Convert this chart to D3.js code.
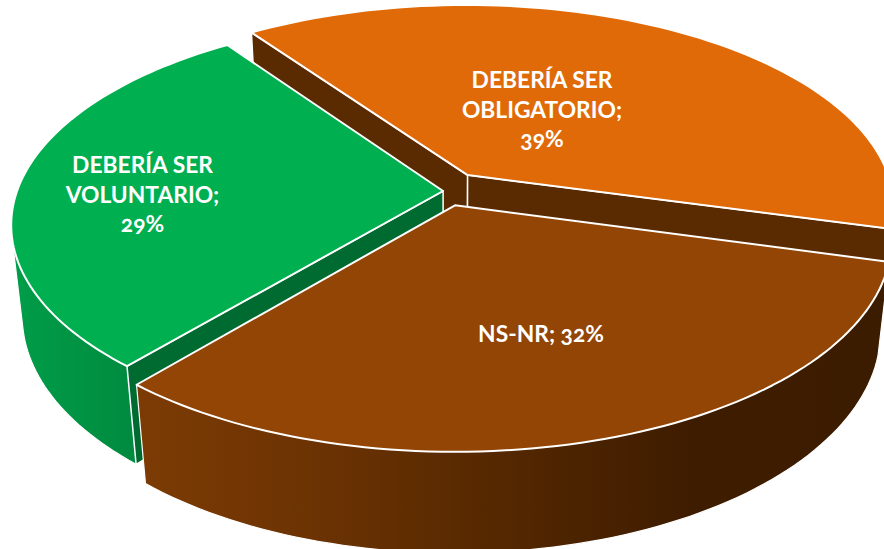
<!DOCTYPE html>
<html>
<head>
<meta charset="utf-8">
<style>
  html, body { margin: 0; padding: 0; background: #fff; }
  svg { display: block; }
  text { font-family: Lato, "Open Sans", sans-serif; font-weight: 700; fill: #fff; font-feature-settings: "onum"; }
</style>
<script src="https://cdn.jsdelivr.net/npm/d3@7"></script>
</head>
<body>
<div id="chart"></div>
<script>
const categories = ["DEBERÍA SER OBLIGATORIO", "NS-NR", "DEBERÍA SER VOLUNTARIO"]
const values = [39, 32, 29]
const labelLines = [["DEBERÍA SER", "OBLIGATORIO;", "39%"], ["NS-NR; 32%"], ["DEBERÍA SER", "VOLUNTARIO;", "29%"]]

// look of each slice
const topColors = ["#e06a08", "#924504", "#00b050"]
const sideColors = ["#5a2a00", "#3c1c00", "#006b31"]
const rimStops = [
    null,
    ["#7c3b04", "#6a3203", "#532700", "#3e1c00", "#3c1c00"],
    ["#009c48", "#008a3f"]
]
// how far each slice is pulled out of the pie, in pie units
const explode = [[0.03, 0.08], [0, -0.07], [-0.028, 0]]
const labelPos = [[542, 88], [541, 342], [142.5, 173]]
const drawOrder = [0, 2, 1]

const width = 884
const height = 549
const persp = 0.16       // back of the pie is further away
const sink = 0.025       // and so is the bottom
const drop = 93          // thickness

const x = d3.scaleLinear().domain([-1, 1]).range([455 - 426, 455 + 426])
const y = d3.scaleLinear().domain([-1, 1]).range([191 + 202, 191 - 202])

// u,v are pie coords (v goes to the back), z 0 top, 1 bottom
const project = (u, v, z) => {
    const w = 1 + persp * v + sink * z
    const py = y(v) - y(0) + drop * z
    return [x(u / w), y(0) + py / w]
}

const pie = d3.pie().sort(null).startAngle(-35.2 * Math.PI / 180).endAngle(324.8 * Math.PI / 180)
const slices = pie(values)
const line = d3.line()

const rimPoints = (d, i, z) => {
    const n = 80
    return d3.range(n + 1).map(k => {
        const a = d.startAngle + (d.endAngle - d.startAngle) * k / n
        return project(Math.sin(a) + explode[i][0], Math.cos(a) + explode[i][1], z)
    })
}
const apex = (i, z) => project(explode[i][0], explode[i][1], z)

const svg = d3.select("#chart").append("svg")
    .attr("width", width)
    .attr("height", height)

const defs = svg.append("defs")
rimStops.forEach((stops, i) => {
    if (!stops) return
    const xs = d3.extent(rimPoints(slices[i], i, 1).filter(p => p[1] > 191), p => p[0])
    const grad = defs.append("linearGradient")
        .attr("id", "rim" + i)
        .attr("gradientUnits", "userSpaceOnUse")
        .attr("x1", xs[0]).attr("x2", xs[1]).attr("y1", 0).attr("y2", 0)
    stops.forEach((c, k) => {
        grad.append("stop").attr("offset", k / (stops.length - 1)).attr("stop-color", c)
    })
})

const addFace = (g, pts, fill, sw) => {
    g.append("path")
        .attr("d", line(pts) + "Z")
        .attr("fill", fill)
        .attr("stroke", "#fff")
        .attr("stroke-width", sw)
        .attr("stroke-linejoin", "round")
}

drawOrder.forEach(i => {
    const d = slices[i]
    const g = svg.append("g").attr("class", "slice")
    const topRim = rimPoints(d, i, 0)
    const botRim = rimPoints(d, i, 1)
    const last = topRim.length - 1

    // outer wall, hull gives the straight silhouette between top and bottom rim
    if (rimStops[i]) {
        addFace(g, d3.polygonHull(topRim.concat(botRim)), `url(#rim${i})`, 1.2)
    }
    // radial walls, only the ones turned towards the viewer
    if (Math.sin(d.startAngle) < 0) {
        addFace(g, [apex(i, 0), topRim[0], botRim[0], apex(i, 1)], sideColors[i], 1.5)
    }
    if (Math.sin(d.endAngle) > 0) {
        addFace(g, [apex(i, 0), topRim[last], botRim[last], apex(i, 1)], sideColors[i], 1.5)
    }
    // top
    addFace(g, [apex(i, 0)].concat(topRim), topColors[i], 2)
})

labelLines.forEach((lines, i) => {
    const t = svg.append("text")
        .attr("text-anchor", "middle")
        .attr("font-size", 22.8)
        .attr("x", labelPos[i][0])
        .attr("y", labelPos[i][1])
    lines.forEach((s, k) => {
        t.append("tspan")
            .attr("x", labelPos[i][0])
            .attr("dy", k ? 29.5 : 0)
            .text(s)
    })
})
</script>
</body>
</html>
